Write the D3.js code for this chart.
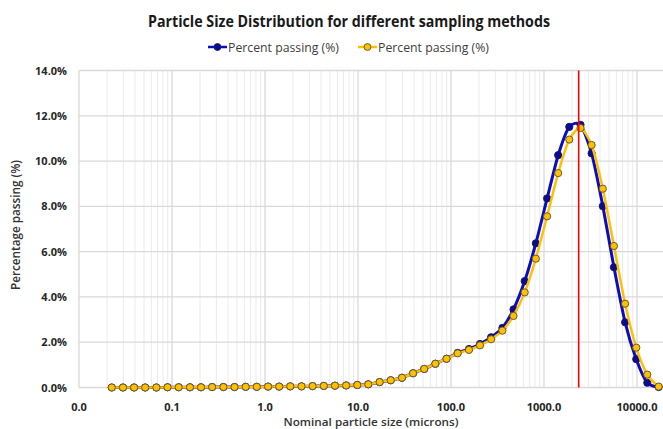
<!DOCTYPE html>
<html>
<head>
<meta charset="utf-8">
<script src="https://cdn.jsdelivr.net/npm/d3@7"></script>
<style>
  body { margin: 0; background: #fff; }
  svg { display: block; font-family: "Open Sans", "Liberation Sans", sans-serif; }
</style>
</head>
<body>
<svg id="chart" width="663" height="429"></svg>
<script>
const sizes = [0.0225, 0.0297, 0.0391, 0.0515, 0.0679, 0.0895, 0.118, 0.156, 0.205, 0.270,
  0.357, 0.470, 0.620, 0.817, 1.08, 1.42, 1.87, 2.47, 3.25, 4.29,
  5.65, 7.45, 9.82, 12.9, 17.1, 22.5, 29.7, 39.1, 51.5, 67.9,
  89.5, 118, 156, 205, 270, 357, 470, 620, 817, 1080,
  1420, 1870, 2470, 3250, 4290, 5650, 7450, 9820, 12900, 17100];

// percent passing, method 1 (blue)
const passingBlue = [0, 0, 0, 0, 0, 0.01, 0.01, 0.01, 0.01, 0.02,
  0.02, 0.02, 0.03, 0.03, 0.04, 0.04, 0.05, 0.05, 0.06, 0.07,
  0.08, 0.09, 0.11, 0.14, 0.24, 0.32, 0.43, 0.63, 0.82, 1.05,
  1.27, 1.53, 1.70, 1.92, 2.22, 2.63, 3.45, 4.70, 6.37, 8.35,
  10.26, 11.51, 11.60, 10.34, 8.01, 5.31, 2.88, 1.25, 0.21, 0.02];

// percent passing, method 2 (yellow)
const passingYellow = [0, 0, 0, 0, 0, 0.01, 0.01, 0.01, 0.01, 0.02,
  0.02, 0.02, 0.03, 0.03, 0.04, 0.04, 0.05, 0.05, 0.06, 0.07,
  0.08, 0.09, 0.11, 0.14, 0.24, 0.32, 0.43, 0.63, 0.82, 1.05,
  1.27, 1.51, 1.66, 1.86, 2.13, 2.51, 3.16, 4.20, 5.69, 7.56,
  9.47, 10.95, 11.46, 10.71, 8.78, 6.25, 3.70, 1.76, 0.57, 0.04];

const xTicks = [0.01, 0.1, 1, 10, 100, 1000, 10000];
const yTicks = [0, 2, 4, 6, 8, 10, 12, 14];
const markerSize = 2360; // red reference line (microns)

const seriesNames = ["Percent passing (%)", "Percent passing (%)"];

const svg = d3.select("#chart");

const x = d3.scaleLog().domain([0.01, 100000]).range([79, 730]);
const y = d3.scaleLinear().domain([0, 14]).range([387.5, 70.5]);

// minor vertical grid
let minor = [];
xTicks.forEach(t => { for (let i = 2; i <= 9; i++) minor.push(t * i); });

svg.append("g")
  .selectAll("line")
  .data(minor)
  .enter().append("line")
  .attr("x1", d => x(d)).attr("x2", d => x(d))
  .attr("y1", y(14)).attr("y2", y(0))
  .attr("stroke", "#ebebeb").attr("stroke-width", 1);

// major grid
svg.append("g")
  .selectAll("line")
  .data(xTicks)
  .enter().append("line")
  .attr("x1", d => x(d)).attr("x2", d => x(d))
  .attr("y1", y(14)).attr("y2", y(0))
  .attr("stroke", "#d9d9d9").attr("stroke-width", 1.3);

svg.append("g")
  .selectAll("line")
  .data(yTicks)
  .enter().append("line")
  .attr("x1", x(0.01)).attr("x2", 663)
  .attr("y1", d => y(d)).attr("y2", d => y(d))
  .attr("stroke", "#d9d9d9").attr("stroke-width", 1.3);

// tick labels
svg.append("g")
  .selectAll("text")
  .data(yTicks)
  .enter().append("text")
  .attr("x", 67).attr("y", d => y(d) + 4)
  .attr("text-anchor", "end")
  .attr("font-size", 11).attr("font-weight", "bold").attr("fill", "#262626")
  .text(d => d.toFixed(1) + "%");

svg.append("g")
  .selectAll("text")
  .data(xTicks)
  .enter().append("text")
  .attr("x", d => x(d)).attr("y", 411)
  .attr("text-anchor", "middle")
  .attr("font-size", 11).attr("font-weight", "bold").attr("fill", "#262626")
  .text(d => d.toFixed(1));

// axis titles
svg.append("text")
  .attr("transform", "translate(20,225) rotate(-90)")
  .attr("text-anchor", "middle")
  .attr("font-size", 12).attr("font-weight", 600).attr("fill", "#333")
  .attr("textLength", 130).attr("lengthAdjust", "spacingAndGlyphs")
  .text("Percentage passing (%)");

svg.append("text")
  .attr("x", 371).attr("y", 426)
  .attr("text-anchor", "middle")
  .attr("font-size", 11.5).attr("font-weight", 600).attr("fill", "#333")
  .attr("textLength", 175).attr("lengthAdjust", "spacingAndGlyphs")
  .text("Nominal particle size (microns)");

// chart title
svg.append("text")
  .attr("x", 349).attr("y", 27)
  .attr("text-anchor", "middle")
  .attr("font-size", 16).attr("font-weight", "bold").attr("fill", "#1a1a1a")
  .attr("textLength", 402).attr("lengthAdjust", "spacingAndGlyphs")
  .text("Particle Size Distribution for different sampling methods");

// series
const series = [
  { values: passingBlue, line: "#0c0cc4", fill: "#0a0a96", stroke: "#1a1a5e", width: 3 },
  { values: passingYellow, line: "#ffc000", fill: "#ffc000", stroke: "#6b5a2a", width: 2.5 }
];

const lineGen = d3.line()
  .x(d => x(d[0]))
  .y(d => y(d[1]))
  .curve(d3.curveCardinal.tension(0.3));

series.forEach(s => {
  const pts = sizes.map((v, i) => [v, s.values[i]]);
  svg.append("path")
    .datum(pts)
    .attr("d", lineGen)
    .attr("fill", "none")
    .attr("stroke", s.line)
    .attr("stroke-width", s.width);
  svg.append("g")
    .selectAll("circle")
    .data(pts)
    .enter().append("circle")
    .attr("cx", d => x(d[0])).attr("cy", d => y(d[1]))
    .attr("r", 3.6)
    .attr("fill", s.fill)
    .attr("stroke", s.stroke).attr("stroke-width", 1);
});

// red reference line
svg.append("line")
  .attr("x1", x(markerSize)).attr("x2", x(markerSize))
  .attr("y1", y(14)).attr("y2", y(0))
  .attr("stroke", "#ff0000").attr("stroke-width", 1.6);

// legend
const legend = svg.append("g");
const legendX = [208, 358];
series.forEach((s, i) => {
  const g = legend.append("g").attr("transform", `translate(${legendX[i]},47)`);
  g.append("line").attr("x1", 0).attr("x2", 19)
    .attr("stroke", s.line).attr("stroke-width", 2.5);
  g.append("circle").attr("cx", 9.5).attr("r", 3.4)
    .attr("fill", s.fill).attr("stroke", s.stroke).attr("stroke-width", 1);
  g.append("text").attr("x", 20).attr("y", 4.6)
    .attr("font-size", 13).attr("fill", "#404040")
    .attr("textLength", 111).attr("lengthAdjust", "spacingAndGlyphs")
    .text(seriesNames[i]);
});
</script>
</body>
</html>
